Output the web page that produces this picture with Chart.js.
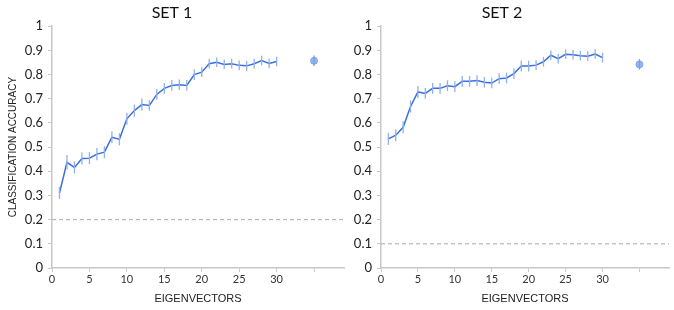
<!DOCTYPE html>
<html>
<head>
<meta charset="utf-8">
<script src="https://cdn.jsdelivr.net/npm/chart.js@4"></script>
<style>
    html, body { margin: 0; padding: 0; background: #fff; }
    #wrap { position: relative; width: 674px; height: 310px; overflow: hidden; }
    .panel { position: absolute; top: 0; height: 310px; }
    #p1 { left: 0; width: 350px; }
    #p2 { left: 330px; width: 344px; }
</style>
</head>
<body>
<div id="wrap">
    <div class="panel" id="p1"><canvas id="chart1"></canvas></div>
    <div class="panel" id="p2"><canvas id="chart2"></canvas></div>
</div>
<script>
// eigenvector counts 1..30
var eigenvectors = [1, 2, 3, 4, 5, 6, 7, 8, 9, 10, 11, 12, 13, 14, 15, 16, 17, 18, 19, 20, 21, 22, 23, 24, 25, 26, 27, 28, 29, 30];

var set1Accuracy = [0.31, 0.437, 0.416, 0.453, 0.454, 0.471, 0.479, 0.541, 0.532, 0.617, 0.651, 0.676, 0.672, 0.718, 0.743, 0.755, 0.758, 0.755, 0.800, 0.810, 0.845, 0.851, 0.842, 0.845, 0.838, 0.836, 0.845, 0.858, 0.846, 0.854];
var set1Error = [0.025, 0.03, 0.025, 0.025, 0.025, 0.025, 0.025, 0.025, 0.025, 0.025, 0.025, 0.025, 0.022, 0.022, 0.022, 0.022, 0.022, 0.022, 0.022, 0.02, 0.02, 0.02, 0.02, 0.02, 0.02, 0.02, 0.02, 0.02, 0.02, 0.02];

var set2Accuracy = [0.534, 0.549, 0.582, 0.668, 0.728, 0.722, 0.743, 0.743, 0.754, 0.750, 0.772, 0.772, 0.775, 0.768, 0.765, 0.783, 0.786, 0.804, 0.835, 0.835, 0.839, 0.853, 0.880, 0.866, 0.884, 0.882, 0.878, 0.876, 0.885, 0.870];
var set2Error = [0.025, 0.025, 0.025, 0.025, 0.025, 0.022, 0.022, 0.022, 0.022, 0.022, 0.022, 0.022, 0.022, 0.022, 0.022, 0.022, 0.022, 0.022, 0.022, 0.022, 0.02, 0.02, 0.02, 0.02, 0.02, 0.02, 0.02, 0.02, 0.02, 0.02];

// single reference point to the right of the curve
var refX = 35;
var set1Ref = 0.857, set1RefError = 0.022;
var set2Ref = 0.842, set2RefError = 0.022;

// chance level
var set1Chance = 0.2;
var set2Chance = 0.1;

var xMax = 39;
var xTickValues = [0, 5, 10, 15, 20, 25, 30, 35];
var xLabelLimit = 30;
var yTickValues = [0, 0.1, 0.2, 0.3, 0.4, 0.5, 0.6, 0.7, 0.8, 0.9, 1];

var LINE_COLOR = '#3d6fd9';
var BAR_COLOR = '#8fb1ef';
var AXIS_COLOR = '#c8c8c8';

var errorBars = {
    id: 'errorBars',
    afterDatasetsDraw: function (chart) {
        var ctx = chart.ctx;
        var ys = chart.scales.y;
        chart.data.datasets.forEach(function (ds, i) {
            if (!ds.errors) return;
            var meta = chart.getDatasetMeta(i);
            ctx.save();
            ctx.strokeStyle = ds.errorColor || BAR_COLOR;
            ctx.lineWidth = 1.3;
            meta.data.forEach(function (pt, j) {
                var v = ds.data[j].y;
                var e = ds.errors[j];
                ctx.beginPath();
                ctx.moveTo(pt.x, ys.getPixelForValue(v - e));
                ctx.lineTo(pt.x, ys.getPixelForValue(v + e));
                ctx.stroke();
            });
            ctx.restore();
        });
    }
};

function makeChart(id, title, acc, err, ref, refErr, chance, showYTitle, leftWidth, rightPad) {
    var ctx = document.getElementById(id).getContext('2d');
    return new Chart(ctx, {
        type: 'line',
        data: {
            datasets: [{
                data: [{ x: 0, y: chance }, { x: xMax, y: chance }],
                borderColor: '#a8a8a8',
                borderWidth: 1,
                borderDash: [4, 3],
                pointRadius: 0
            }, {
                data: eigenvectors.map(function (x, i) { return { x: x, y: acc[i] }; }),
                errors: err,
                borderColor: LINE_COLOR,
                borderWidth: 1.5,
                pointRadius: 0,
                tension: 0
            }, {
                type: 'scatter',
                data: [{ x: refX, y: ref }],
                errors: [refErr],
                errorColor: '#7f9fe0',
                backgroundColor: '#94b7f4',
                borderColor: '#7fa5ee',
                borderWidth: 1,
                pointRadius: 3.5
            }]
        },
        options: {
            responsive: true,
            maintainAspectRatio: false,
            animation: false,
            layout: { padding: { left: 0, right: rightPad, top: 0, bottom: 0 } },
            plugins: {
                legend: { display: false },
                tooltip: { enabled: false },
                title: {
                    display: true,
                    text: title,
                    color: '#111',
                    font: { family: 'Lato', size: 16, weight: 'normal' },
                    padding: { top: 3, bottom: 4 }
                }
            },
            scales: {
                x: {
                    type: 'linear',
                    min: 0,
                    max: xMax,
                    afterBuildTicks: function (scale) {
                        scale.ticks = xTickValues.map(function (v) { return { value: v }; });
                    },
                    afterFit: function (scale) { scale.height = 42; },
                    ticks: {
                        color: '#333',
                        font: { family: 'Lato', size: 11 },
                        padding: 1,
                        maxRotation: 0,
                        callback: function (v) { return v <= xLabelLimit ? String(v) : ''; }
                    },
                    grid: { drawOnChartArea: false, color: AXIS_COLOR, tickLength: 4 },
                    border: { color: AXIS_COLOR, width: 1.5 },
                    title: {
                        display: true,
                        text: 'EIGENVECTORS',
                        color: '#222',
                        font: { family: 'Liberation Sans', size: 11 },
                        padding: { top: 4, bottom: 4 }
                    }
                },
                y: {
                    min: 0,
                    max: 1,
                    afterBuildTicks: function (scale) {
                        scale.ticks = yTickValues.map(function (v) { return { value: v }; });
                    },
                    afterFit: function (scale) { scale.width = leftWidth; },
                    ticks: {
                        color: '#222',
                        font: { family: 'Lato', size: 13 },
                        padding: 5,
                        callback: function (v) { return String(Number(v.toFixed(1))); }
                    },
                    grid: { drawOnChartArea: false, color: AXIS_COLOR, tickLength: 4 },
                    border: { color: AXIS_COLOR, width: 1.5 },
                    title: {
                        display: showYTitle,
                        text: 'CLASSIFICATION ACCURACY',
                        color: '#222',
                        font: { family: 'Liberation Sans', size: 10 },
                        padding: { top: 7, bottom: 0 }
                    }
                }
            }
        },
        plugins: [errorBars]
    });
}

makeChart('chart1', 'SET 1', set1Accuracy, set1Error, set1Ref, set1RefError, set1Chance, true, 52, 6);
makeChart('chart2', 'SET 2', set2Accuracy, set2Error, set2Ref, set2RefError, set2Chance, false, 51, 0);
</script>
</body>
</html>
